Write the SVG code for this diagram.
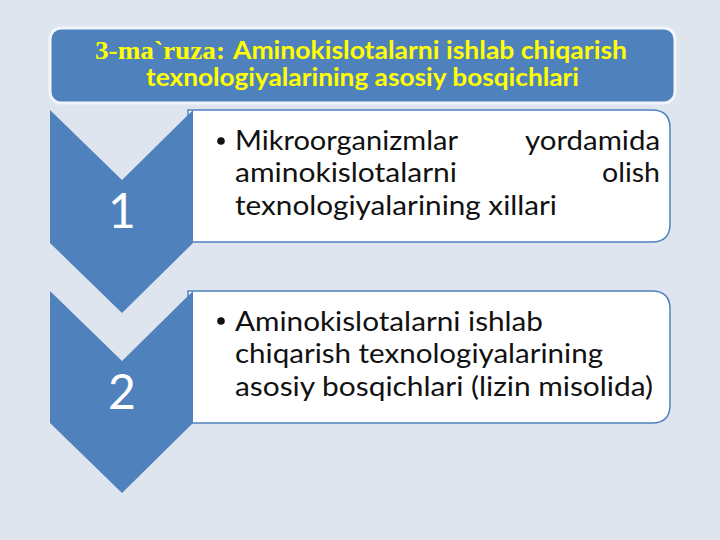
<svg xmlns="http://www.w3.org/2000/svg" width="720" height="540" viewBox="0 0 720 540">
  <defs>
    <style>
      .title { font-family: Lato, "Open Sans", "Liberation Sans", sans-serif; font-weight: bold; font-size: 25px; fill: #ffff00; }
      .titleSerif { font-family: "Liberation Serif", "Times New Roman", serif; font-weight: bold; font-size: 25px; fill: #ffff00; }
      .body { font-family: Lato, "Open Sans", "Liberation Sans", sans-serif; font-size: 26px; fill: #111111; }
      .num { font-family: Lato, "Open Sans", "Liberation Sans", sans-serif; font-weight: normal; font-size: 48px; fill: #ffffff; }
      .chev { fill: #4f81bd; }
      .box { fill: #ffffff; stroke: #4f81bd; stroke-width: 1.5; }
    </style>
  </defs>
  <rect x="0" y="0" width="720" height="540" fill="#dee5ef"/>

  <g id="title">
    <rect x="50" y="28" width="625" height="75" rx="11" ry="11" fill="#4f81bd" stroke="#f2f6fb" stroke-width="3"/>
    <text class="titleSerif" x="95" y="59" textLength="130" lengthAdjust="spacingAndGlyphs">3-ma`ruza:</text>
    <text class="title" x="233" y="59" textLength="394" lengthAdjust="spacingAndGlyphs">Aminokislotalarni ishlab chiqarish</text>
    <text class="title" x="146" y="86" textLength="433" lengthAdjust="spacingAndGlyphs">texnologiyalarining asosiy bosqichlari</text>
  </g>

  <g id="step1-box">
    <path class="box" d="M188,110 H652 Q670,110 670,128 V224 Q670,242 652,242 H188 Z"/>
    <circle cx="221" cy="141" r="3.8" fill="#111111"/>
    <text class="body" x="235" y="150" textLength="223" lengthAdjust="spacingAndGlyphs">Mikroorganizmlar</text>
    <text class="body" x="525" y="150" textLength="135" lengthAdjust="spacingAndGlyphs">yordamida</text>
    <text class="body" x="235" y="182" textLength="222" lengthAdjust="spacingAndGlyphs">aminokislotalarni</text>
    <text class="body" x="602" y="182" textLength="58" lengthAdjust="spacingAndGlyphs">olish</text>
    <text class="body" x="235" y="215" textLength="322" lengthAdjust="spacingAndGlyphs">texnologiyalarining xillari</text>
  </g>

  <g id="step2-box">
    <path class="box" d="M188,291 H652 Q670,291 670,309 V405 Q670,423 652,423 H188 Z"/>
    <circle cx="221" cy="321" r="3.8" fill="#111111"/>
    <text class="body" x="235" y="331" textLength="308" lengthAdjust="spacingAndGlyphs">Aminokislotalarni ishlab</text>
    <text class="body" x="235" y="363" textLength="368" lengthAdjust="spacingAndGlyphs">chiqarish texnologiyalarining</text>
    <text class="body" x="235" y="396" textLength="418" lengthAdjust="spacingAndGlyphs">asosiy bosqichlari (lizin misolida)</text>
  </g>

  <g id="step1-chevron">
    <path class="chev" d="M50,110 L122,180 L193,110 L193,243 L122,313 L50,243 Z"/>
    <text class="num" x="122" y="228" text-anchor="middle">1</text>
  </g>

  <g id="step2-chevron">
    <path class="chev" d="M50,291 L122,361 L193,291 L193,423 L122,493 L50,423 Z"/>
    <text class="num" x="122" y="409" text-anchor="middle">2</text>
  </g>

  <g id="connectors"></g>
</svg>
